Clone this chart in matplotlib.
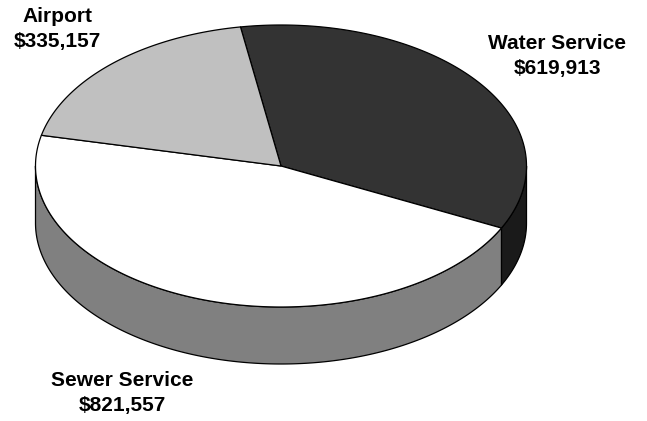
import numpy as np
import matplotlib
matplotlib.use("Agg")
import matplotlib.pyplot as plt
from matplotlib.patches import Polygon

# ---- data ----
categories = ["Water Service", "Sewer Service", "Airport"]
values = [619913, 821557, 335157]
top_colors = ["#333333", "#ffffff", "#c0c0c0"]
side_colors = ["#1a1a1a", "#808080", "#a0a0a0"]

# ---- layout (pixel space) ----
W, H = 647, 421
cx, cy = 281.0, 166.0     # centre of top face
ra, rb = 245.5, 141.0     # semi axes of top face
depth = 57.0              # thickness of the pie
start_deg = 260.5         # angle where first slice starts (clockwise, screen)
label_pos = {"Water Service": (557, 56), "Sewer Service": (122, 393), "Airport": (57, 29)}

fig = plt.figure(figsize=(W / 100, H / 100), dpi=100)
ax = fig.add_axes([0, 0, 1, 1])
ax.set_xlim(0, W)
ax.set_ylim(H, 0)
ax.axis("off")


def pt(theta_deg, dz=0.0):
    t = np.radians(theta_deg)
    return cx + ra * np.cos(t), cy + rb * np.sin(t) + dz


def arc(t1, t2, dz=0.0, n=None):
    if n is None:
        n = max(int(abs(t2 - t1) * 2), 2)
    ts = np.linspace(t1, t2, n)
    xs, ys = pt(ts, dz)
    return np.column_stack([xs, ys])


total = float(sum(values))
spans = [v / total * 360.0 for v in values]
bounds = []
a = start_deg
for s in spans:
    bounds.append((a, a + s))
    a += s

lw = 0.9

# side walls (front half: 0..180 deg)
for (t1, t2), col in zip(bounds, side_colors):
    for shift in (-360.0, 0.0, 360.0):
        s1, s2 = t1 + shift, t2 + shift
        lo, hi = max(s1, 0.0), min(s2, 180.0)
        if hi > lo:
            top = arc(lo, hi)
            bot = arc(hi, lo, dz=depth)
            poly = np.vstack([top, bot])
            ax.add_patch(Polygon(poly, closed=True, facecolor=col,
                                 edgecolor="black", linewidth=lw, joinstyle="round"))

# top face
for (t1, t2), col in zip(bounds, top_colors):
    pts = np.vstack([[cx, cy], arc(t1, t2)])
    ax.add_patch(Polygon(pts, closed=True, facecolor=col,
                         edgecolor="black", linewidth=lw, joinstyle="round"))

for name, val in zip(categories, values):
    x, y = label_pos[name]
    ax.text(x, y, f"{name}\n\\${val:,}", ha="center", va="center",
            multialignment="center", fontsize=15, fontweight="bold",
            family=["Liberation Sans", "DejaVu Sans"], color="black",
            linespacing=1.35)

fig.savefig("out.png", dpi=100)
